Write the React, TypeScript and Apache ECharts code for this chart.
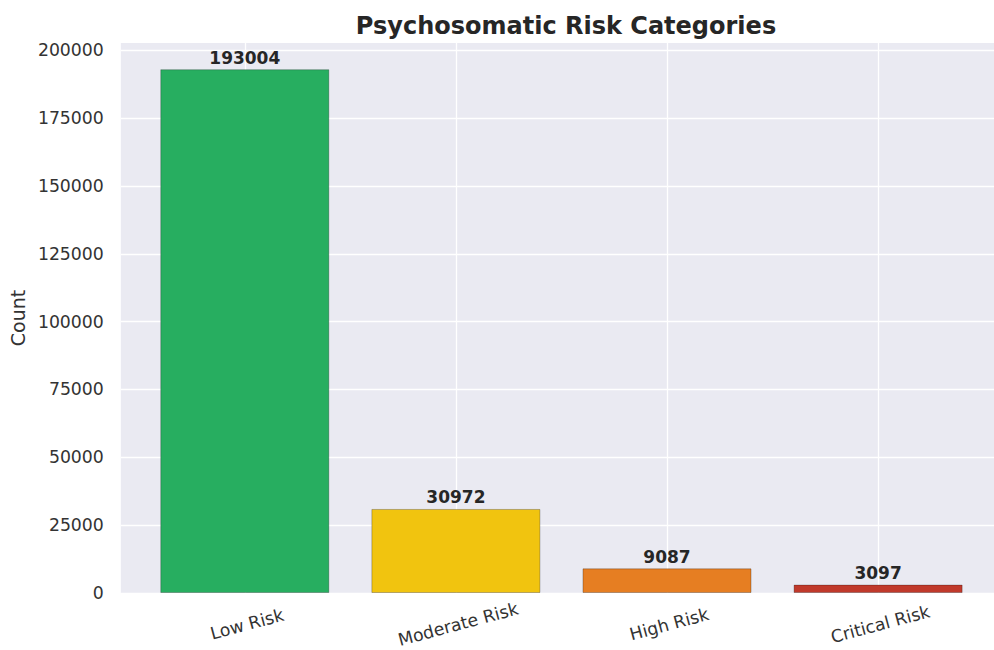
import React, { useEffect, useRef } from "react";
import * as echarts from "echarts";

const categories = ["Low Risk", "Moderate Risk", "High Risk", "Critical Risk"];
const counts = [193004, 30972, 9087, 3097];
const barColors = ["#27ae60", "#f1c40f", "#e67e22", "#c0392b"];
const yTickStep = 25000;

export default function App() {
  const ref = useRef<HTMLDivElement>(null);
  useEffect(() => {
    if (!ref.current) return;
    const chart = echarts.init(ref.current, null, { renderer: "svg" });
    const xMin = -0.587;
    const xMax = 3.549;
    const gridW = 874;
    const unitPx = gridW / (xMax - xMin);
    const yMax = Math.max(...counts) * 1.05;
    const font = "'DejaVu Sans', sans-serif";
    chart.setOption({
      animation: false,
      title: {
        text: "Psychosomatic Risk Categories",
        left: 561,
        textAlign: "center",
        top: 9,
        textStyle: { fontFamily: font, fontSize: 24, fontWeight: "bold", color: "#262626" },
      },
      grid: {
        left: 120,
        top: 43,
        width: gridW,
        height: 550,
        show: true,
        backgroundColor: "#eaeaf2",
        borderWidth: 0,
      },
      xAxis: {
        type: "value",
        min: xMin,
        max: xMax,
        axisLine: { show: false },
        axisTick: { show: false, customValues: [0, 1, 2, 3] },
        axisLabel: {
          customValues: [0, 1, 2, 3],
          formatter: (v: number) => categories[Math.round(v)] ?? "",
          rotate: 15,
          align: "center",
          verticalAlign: "top",
          margin: 23,
          fontFamily: font,
          fontSize: 17.3,
          color: "#333333",
        },
        splitLine: { show: true, lineStyle: { color: "#ffffff", width: 1.3 } },
      },
      yAxis: {
        type: "value",
        min: 0,
        max: yMax,
        interval: yTickStep,
        name: "Count",
        nameLocation: "middle",
        nameGap: 91,
        nameTextStyle: { fontFamily: font, fontSize: 19, color: "#333333" },
        axisLine: { show: false },
        axisTick: { show: false },
        axisLabel: {
          showMaxLabel: false,
          formatter: (v: number) => (v % yTickStep === 0 ? String(v) : ""),
          margin: 17,
          fontFamily: font,
          fontSize: 17.3,
          color: "#333333",
        },
        splitLine: { show: true, showMaxLine: false, lineStyle: { color: "#ffffff", width: 1.3 } },
      },
      series: [
        {
          type: "bar",
          barWidth: 0.8 * unitPx,
          data: counts.map((v, i) => ({
            value: [i, v],
            itemStyle: { color: barColors[i], borderColor: "rgba(0,0,0,0.25)", borderWidth: 1 },
          })),
          label: {
            show: true,
            position: "top",
            distance: 3,
            formatter: (p: any) => String(p.value[1]),
            fontFamily: font,
            fontSize: 17,
            fontWeight: "bold",
            color: "#262626",
          },
        },
      ],
    });
    return () => chart.dispose();
  }, []);
  return (
    <div
      ref={ref}
      style={{ position: "absolute", left: 0, top: 0, width: 994, height: 650, background: "#ffffff" }}
    />
  );
}
